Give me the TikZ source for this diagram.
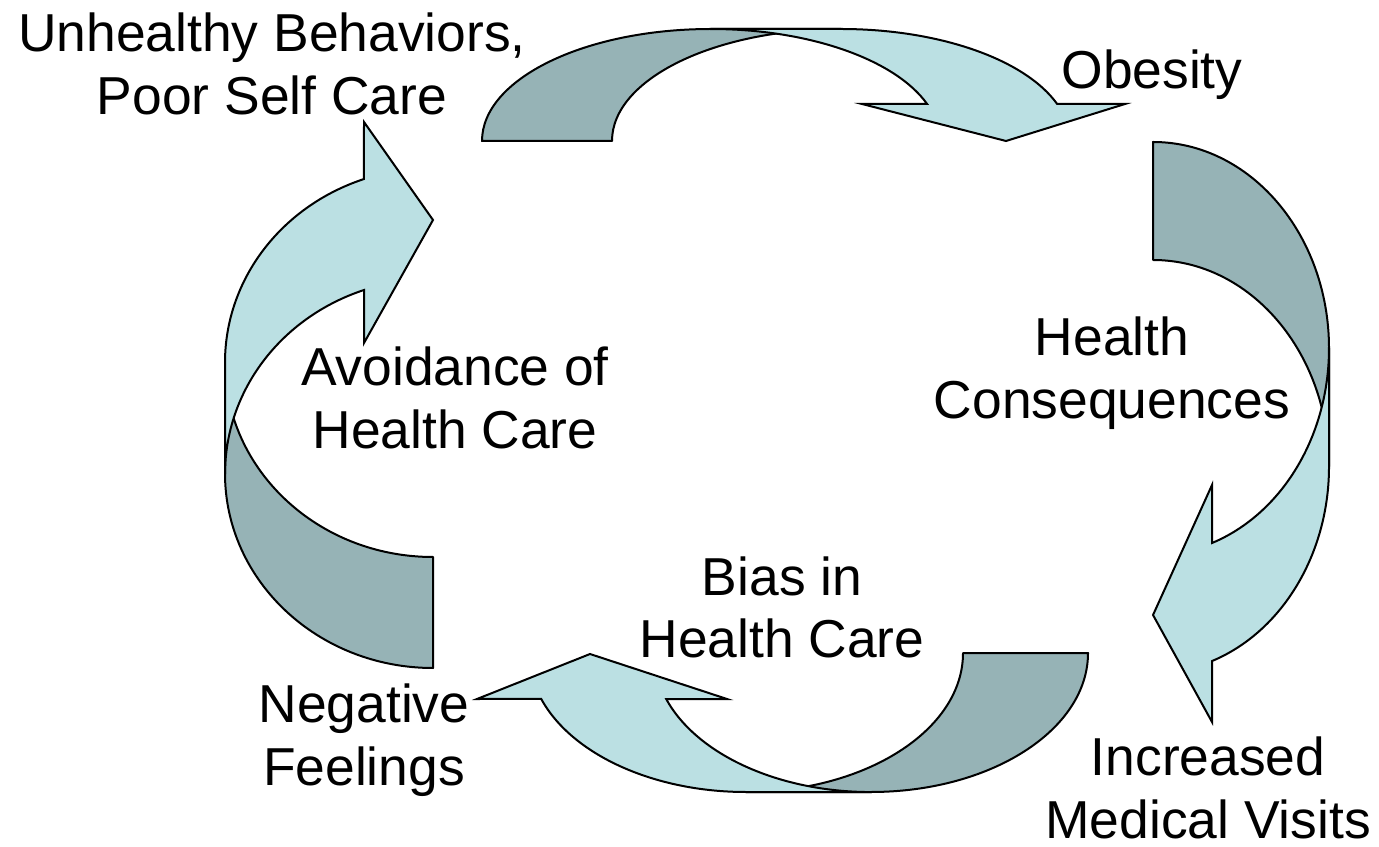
\documentclass[tikz,border=0pt]{standalone}
\usepackage{fontspec}
\setmainfont{Liberation Sans}
\definecolor{backcol}{RGB}{150,179,182}
\definecolor{frontcol}{RGB}{187,224,227}

\begin{document}
\begin{tikzpicture}[x=0.5pt,y=0.5pt,
    back/.style={fill=backcol,draw=black,line width=1pt,line join=round},
    front/.style={fill=frontcol,draw=black,line width=1pt},
    lbl/.style={align=center,inner sep=0pt,font=\fontsize{26.7}{31.3}\selectfont}]

    \useasboundingbox (0,0) rectangle (1379,846);

    % arr1
    \draw[back] (482,705) arc[start angle=180,end angle=90,x radius=229,y radius=112]
      -- (841,817) arc[start angle=90,end angle=180,x radius=229,y radius=112] -- cycle;
    \draw[front] (711,817) -- (841,817) arc[start angle=90,end angle=19.3,x radius=229,y radius=112]
      -- (1125,742) -- (1006,705) -- (862,742) -- (927.1,742)
      arc[start angle=19.3,end angle=90,x radius=229,y radius=112] -- cycle;

    % arr2
    \draw[back] (1153,704) arc[start angle=90,end angle=0,x radius=176,y radius=206.5]
      -- (1329,379.5) arc[start angle=0,end angle=90,x radius=176,y radius=206.5] -- cycle;
    \draw[front] (1329,497.5) -- (1329,379.5) arc[start angle=0,end angle=-70.4,x radius=176,y radius=206.5]
      -- (1212,124) -- (1153,231) -- (1212,361) -- (1212,303)
      arc[start angle=-70.4,end angle=0,x radius=176,y radius=206.5] -- cycle;

    % arr3
    \draw[back] (1088,193) arc[start angle=0,end angle=-90,x radius=217,y radius=139]
      -- (746,54) arc[start angle=-90,end angle=0,x radius=217,y radius=139] -- cycle;
    \draw[front] (871,54) -- (746,54) arc[start angle=-90,end angle=-160.7,x radius=217,y radius=139]
      -- (477,147) -- (590,192) -- (727,147) -- (666.2,147)
      arc[start angle=-160.7,end angle=-90,x radius=217,y radius=139] -- cycle;

    % arr4
    \draw[back] (433,178) arc[start angle=-90,end angle=-180,x radius=208,y radius=194.5]
      -- (225,483.5) arc[start angle=180,end angle=270,x radius=208,y radius=194.5] -- cycle;
    \draw[front] (225,372.5) -- (225,483.5) arc[start angle=180,end angle=109.4,x radius=208,y radius=194.5]
      -- (364,724) -- (433,626) -- (364,503) -- (364,556)
      arc[start angle=109.4,end angle=180,x radius=208,y radius=194.5] -- cycle;

    % labels
    \node[lbl] (behav) at (272,782) {Unhealthy Behaviors,\\Poor Self Care};
    \node[lbl] (obes) at (1152,771) {Obesity};
    \node[lbl] (conseq) at (1112,473) {Health\\Consequences};
    \node[lbl] (visits) at (1208,58) {Increased\\Medical Visits};
    \node[lbl] (bias) at (782,238.5) {Bias in\\Health Care};
    \node[lbl] (feel) at (364,106) {Negative\\Feelings};
    \node[lbl] (avoid) at (455,448) {Avoidance of\\Health Care};
  \end{tikzpicture}
\end{document}
